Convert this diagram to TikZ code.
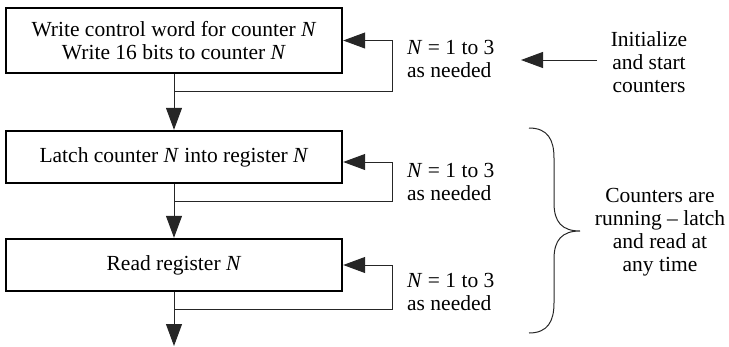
\documentclass[tikz,border=0pt]{standalone}
\usepackage{fontspec}
\setmainfont{Liberation Serif}
\usetikzlibrary{arrows.meta}
\begin{document}
\begin{tikzpicture}[x=1pt,y=-1pt,
  stepbox/.style={draw,line width=2.4pt,minimum width=336pt,inner sep=0pt,
    font=\fontsize{21.5}{23.5}\selectfont,align=center},
  lbl/.style={inner sep=0pt,font=\fontsize{21.5}{23}\selectfont},
  conn/.style={line width=1pt,draw=black!85},
  arr/.style={conn,-{Triangle[length=22pt,width=16pt]}}]
\useasboundingbox (0,0) rectangle (729,346);
\node[stepbox,minimum height=65pt] (box1) at (174,40.5) {Write control word for counter \textit{N}\\Write 16 bits to counter \textit{N}};
\node[stepbox,minimum height=52pt] (box2) at (174,157) {Latch counter \textit{N} into register \textit{N}};
\node[stepbox,minimum height=52pt] (box3) at (174,265) {Read register \textit{N}};
\coordinate (out) at (174,346);
\coordinate (j1) at (174,91);
\coordinate (j2) at (174,201);
\coordinate (j3) at (174,309);
\draw[arr] (box1.south) -- (box2.north);
\draw[arr] (box2.south) -- (box3.north);
\draw[arr] (box3.south) -- (out);
\draw[arr] (j1) -- (392,91) |- (box1.east);
\draw[arr] (j2) -- (392,201) |- ([yshift=-5pt]box2.east);
\draw[arr] (j3) -- (392,309) |- (box3.east);
\node[lbl,anchor=west,align=left] (n1) at (407,59) {\textit{N} = 1 to 3\\as needed};
\node[lbl,anchor=west,align=left] (n2) at (407,181.5) {\textit{N} = 1 to 3\\as needed};
\node[lbl,anchor=west,align=left] (n3) at (407,291.5) {\textit{N} = 1 to 3\\as needed};
\node[lbl,align=center] (init) at (649,62) {Initialize\\and start\\counters};
\coordinate (is) at (597,60);
\coordinate (it) at (521,60);
\draw[arr] (is) -- (it);
\node[lbl,align=center] (run) at (660,232) {Counters are\\running -- latch\\and read at\\any time};
\draw[line width=1pt,draw=black!85] (529,128) .. controls (548,128) and (554,140) .. (554,158)
  -- (554,203) .. controls (554,222) and (562,231) .. (580,231)
  .. controls (562,231) and (554,240) .. (554,259)
  -- (554,303) .. controls (554,321) and (548,333) .. (529,333);
\end{tikzpicture}
\end{document}
